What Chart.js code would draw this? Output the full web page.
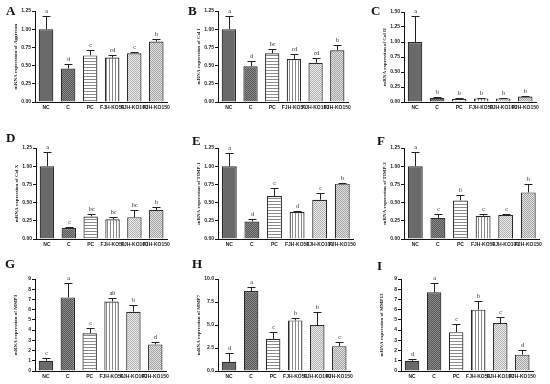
<!DOCTYPE html>
<html>
<head>
<meta charset="utf-8">
<script src="https://cdn.jsdelivr.net/npm/chart.js@4/dist/chart.umd.min.js"></script>
<style>
body { margin: 0; background: #fff; width: 550px; height: 384px; position: relative; overflow: hidden; }
canvas { position: absolute; }
.tag { position: absolute; font: bold 13px "Liberation Serif", serif; color: #111; line-height: 13px; }
</style>
</head>
<body>
<script>
// groups on the x axis
var groups = ['NC', 'C', 'PC', 'FJH-KO50', 'FJH-KO100', 'FJH-KO150'];

// A - Aggrecan
var aggrecan = [1.00, 0.46, 0.64, 0.61, 0.67, 0.83];
var aggrecanErr = [0.18, 0.06, 0.08, 0.04, 0.01, 0.03];
var aggrecanSig = ['a', 'd', 'c', 'cd', 'c', 'b'];
// B - Col I
var col1 = [1.00, 0.49, 0.67, 0.59, 0.54, 0.71];
var col1Err = [0.18, 0.07, 0.06, 0.07, 0.06, 0.07];
var col1Sig = ['a', 'd', 'bc', 'cd', 'cd', 'b'];
// C - Col II
var col2 = [1.00, 0.07, 0.05, 0.06, 0.06, 0.09];
var col2Err = [0.44, 0.02, 0.01, 0.005, 0.005, 0.01];
var col2Sig = ['a', 'b', 'b', 'b', 'b', 'b'];
// D - Col X
var col10 = [1.00, 0.15, 0.31, 0.27, 0.30, 0.40];
var col10Err = [0.20, 0.01, 0.04, 0.03, 0.10, 0.04];
var col10Sig = ['a', 'c', 'bc', 'bc', 'bc', 'b'];
// E - TIMP-1
var timp1 = [1.00, 0.24, 0.59, 0.37, 0.54, 0.76];
var timp1Err = [0.18, 0.04, 0.11, 0.02, 0.09, 0.01];
var timp1Sig = ['a', 'd', 'c', 'd', 'c', 'b'];
// F - TIMP-3
var timp3 = [1.00, 0.29, 0.53, 0.32, 0.33, 0.64];
var timp3Err = [0.19, 0.05, 0.07, 0.03, 0.02, 0.12];
var timp3Sig = ['a', 'c', 'b', 'c', 'c', 'b'];
// G - MMP3
var mmp3 = [1.0, 7.2, 3.7, 6.8, 5.8, 2.6];
var mmp3Err = [0.3, 1.4, 0.5, 0.3, 0.7, 0.2];
var mmp3Sig = ['c', 'a', 'c', 'ab', 'b', 'd'];
// H - MMP7
var mmp7 = [1.0, 8.7, 3.5, 5.5, 5.0, 2.7];
var mmp7Err = [1.0, 0.4, 0.7, 0.3, 1.4, 0.4];
var mmp7Sig = ['d', 'a', 'c', 'b', 'b', 'c'];
// I - MMP13
var mmp13 = [1.0, 7.7, 3.8, 6.0, 4.7, 1.6];
var mmp13Err = [0.2, 0.9, 0.8, 0.8, 0.6, 0.5];
var mmp13Sig = ['d', 'a', 'c', 'b', 'c', 'd'];

function makePattern(w, h, draw) {
    var c = document.createElement('canvas');
    c.width = w; c.height = h;
    var g = c.getContext('2d');
    draw(g);
    return g.createPattern(c, 'repeat');
}

var fills = [
    '#6a6a6a',
    makePattern(2, 2, function (g) {
        g.fillStyle = '#585858'; g.fillRect(0, 0, 2, 2);
        g.fillStyle = '#8a8a8a'; g.fillRect(0, 0, 1, 1); g.fillRect(1, 1, 1, 1);
    }),
    makePattern(3, 3, function (g) {
        g.fillStyle = '#fff'; g.fillRect(0, 0, 3, 3);
        g.fillStyle = '#8a8a8a'; g.fillRect(0, 0, 3, 1);
    }),
    makePattern(3, 3, function (g) {
        g.fillStyle = '#fff'; g.fillRect(0, 0, 3, 3);
        g.fillStyle = '#8a8a8a'; g.fillRect(0, 0, 1, 3);
    }),
    makePattern(2, 2, function (g) {
        g.fillStyle = '#ececec'; g.fillRect(0, 0, 2, 2);
        g.fillStyle = '#b0b0b0'; g.fillRect(0, 0, 1, 1); g.fillRect(1, 1, 1, 1);
    }),
    makePattern(2, 2, function (g) {
        g.fillStyle = '#e2e2e2'; g.fillRect(0, 0, 2, 2);
        g.fillStyle = '#a2a2a2'; g.fillRect(0, 0, 1, 1); g.fillRect(1, 1, 1, 1);
    })
];

// error bars and significance letters
var errorBars = {
    id: 'errorBars',
    afterDatasetsDraw: function (chart) {
        var ctx = chart.ctx;
        var ds = chart.data.datasets[0];
        var y = chart.scales.y;
        ctx.save();
        ctx.strokeStyle = '#222';
        ctx.lineWidth = 1;
        ctx.fillStyle = '#222';
        ctx.font = '6px "Liberation Serif"';
        ctx.textAlign = 'center';
        ctx.textBaseline = 'bottom';
        chart.getDatasetMeta(0).data.forEach(function (bar, i) {
            var top = Math.round(y.getPixelForValue(ds.data[i] + ds.err[i])) + 0.5;
            var x = Math.round(bar.x) + 0.5;
            ctx.beginPath();
            ctx.moveTo(x, bar.y);
            ctx.lineTo(x, top);
            ctx.moveTo(x - 4, top);
            ctx.lineTo(x + 4, top);
            ctx.stroke();
            ctx.fillText(ds.sig[i], x, top - 2);
        });
        ctx.restore();
    }
};

var panels = [
    { tag: 'A', title: 'mRNA expression of Aggrecan', data: aggrecan, err: aggrecanErr, sig: aggrecanSig, max: 1.25, step: 0.25, dec: 2, l: 35, r: 170, t: 11, b: 102, tx: 6, ty: 4 },
    { tag: 'B', title: 'mRNA expression of Col I', data: col1, err: col1Err, sig: col1Sig, max: 1.25, step: 0.25, dec: 2, l: 218, r: 351, t: 11, b: 102, tx: 188, ty: 4 },
    { tag: 'C', title: 'mRNA expression of Col II', data: col2, err: col2Err, sig: col2Sig, max: 1.5, step: 0.25, dec: 2, l: 404, r: 539, t: 12, b: 102, tx: 371, ty: 4 },
    { tag: 'D', title: 'mRNA expression of Col X', data: col10, err: col10Err, sig: col10Sig, max: 1.25, step: 0.25, dec: 2, l: 36, r: 170, t: 148, b: 239, tx: 6, ty: 131 },
    { tag: 'E', title: 'mRNA expression of TIMP-1', data: timp1, err: timp1Err, sig: timp1Sig, max: 1.25, step: 0.25, dec: 2, l: 218, r: 356, t: 148, b: 239, tx: 192, ty: 134 },
    { tag: 'F', title: 'mRNA expression of TIMP-3', data: timp3, err: timp3Err, sig: timp3Sig, max: 1.25, step: 0.25, dec: 2, l: 404, r: 542, t: 148, b: 239, tx: 377, ty: 134 },
    { tag: 'G', title: 'mRNA expression of MMP3', data: mmp3, err: mmp3Err, sig: mmp3Sig, max: 9, step: 1, dec: 0, l: 35, r: 169, t: 279, b: 371, tx: 5, ty: 257 },
    { tag: 'H', title: 'mRNA expression of MMP7', data: mmp7, err: mmp7Err, sig: mmp7Sig, max: 10, step: 2.5, dec: 1, l: 218, r: 353, t: 279, b: 371, tx: 192, ty: 257 },
    { tag: 'I', title: 'mRNA expression of MMP13', data: mmp13, err: mmp13Err, sig: mmp13Sig, max: 9, step: 1, dec: 0, l: 401, r: 536, t: 279, b: 371, tx: 377, ty: 259 }
];

var padL = 22, padT = 10, padR = 3, padB = 12;

panels.forEach(function (p) {
    var cv = document.createElement('canvas');
    cv.width = (p.r - p.l) + padL + padR;
    cv.height = (p.b - p.t) + padT + padB;
    cv.style.left = (p.l - padL) + 'px';
    cv.style.top = (p.t - padT) + 'px';
    document.body.appendChild(cv);

    var tag = document.createElement('div');
    tag.className = 'tag';
    tag.textContent = p.tag;
    tag.style.left = p.tx + 'px';
    tag.style.top = p.ty + 'px';
    document.body.appendChild(tag);

    new Chart(cv, {
        type: 'bar',
        data: {
            labels: groups,
            datasets: [{
                data: p.data,
                err: p.err,
                sig: p.sig,
                backgroundColor: fills,
                borderColor: '#2a2a2a',
                borderWidth: 1.2,
                categoryPercentage: 1,
                barPercentage: 0.66
            }]
        },
        options: {
            responsive: false,
            animation: false,
            devicePixelRatio: 1,
            layout: { padding: { top: padT, right: padR, left: 0, bottom: 0 } },
            plugins: { legend: { display: false }, tooltip: { enabled: false } },
            scales: {
                x: {
                    afterFit: function (s) { s.height = padB; },
                    grid: { display: false, drawTicks: false, tickLength: 0 },
                    border: { display: true, color: '#111', width: 1 },
                    ticks: {
                        autoSkip: false, maxRotation: 0, padding: 3, color: '#222',
                        font: { family: 'Liberation Sans', size: 5, weight: 'bold' }
                    }
                },
                y: {
                    min: 0,
                    max: p.max,
                    afterFit: function (s) { s.width = padL; },
                    grid: { drawOnChartArea: false, drawTicks: true, tickLength: 3, color: '#111' },
                    border: { display: true, color: '#111', width: 1 },
                    ticks: {
                        stepSize: p.step, padding: 1, color: '#222',
                        font: { family: 'Liberation Sans', size: 5, weight: 'bold' },
                        callback: function (v) { return Number(v).toFixed(p.dec); }
                    },
                    title: {
                        display: true, text: p.title, color: '#222',
                        padding: { top: 0, bottom: 1 },
                        font: { family: 'Liberation Serif', size: 5, weight: 'bold' }
                    }
                }
            }
        },
        plugins: [errorBars]
    });
});
</script>
</body>
</html>
